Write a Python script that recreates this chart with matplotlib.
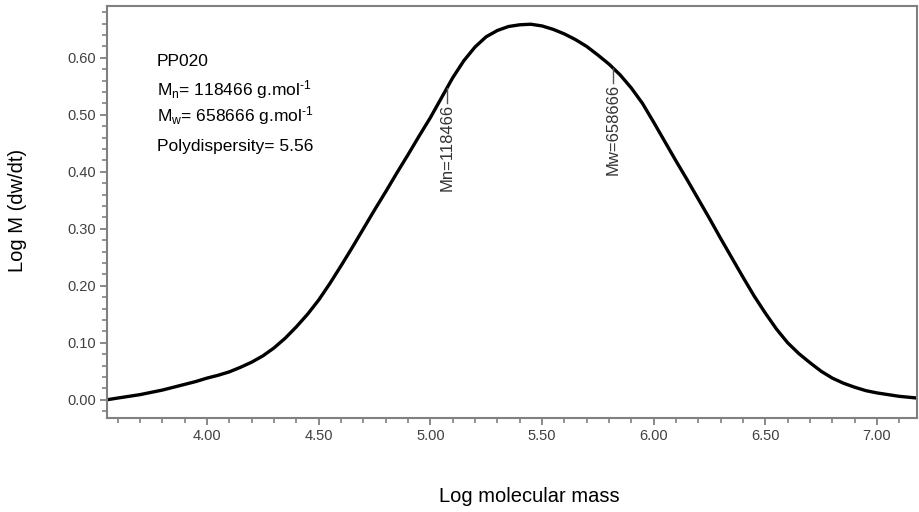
import numpy as np
import matplotlib
matplotlib.use("Agg")
import matplotlib.pyplot as plt

plt.rcParams['font.family'] = ['Liberation Sans', 'DejaVu Sans']
plt.rcParams['mathtext.fontset'] = 'custom'
plt.rcParams['mathtext.rm'] = 'Liberation Sans'
plt.rcParams['mathtext.it'] = 'Liberation Sans'

# Molecular weight distribution
log_m = [3.552, 3.6, 3.65, 3.7, 3.75, 3.8, 3.85, 3.9, 3.95, 4.0, 4.05, 4.1,
         4.15, 4.2, 4.25, 4.3, 4.35, 4.4, 4.45, 4.5, 4.55, 4.6, 4.65, 4.7,
         4.75, 4.8, 4.85, 4.9, 4.95, 5.0, 5.05, 5.1, 5.15, 5.2, 5.25, 5.3,
         5.35, 5.4, 5.45, 5.5, 5.55, 5.6, 5.65, 5.7, 5.75, 5.8, 5.85, 5.9,
         5.95, 6.0, 6.05, 6.1, 6.15, 6.2, 6.25, 6.3, 6.35, 6.4, 6.45, 6.5,
         6.55, 6.6, 6.65, 6.7, 6.75, 6.8, 6.85, 6.9, 6.95, 7.0, 7.05, 7.1,
         7.18]
dwdt = [0.000, 0.003, 0.006, 0.009, 0.013, 0.017, 0.022, 0.027, 0.032, 0.038,
        0.043, 0.049, 0.057, 0.066, 0.077, 0.091, 0.108, 0.128, 0.150, 0.175,
        0.204, 0.235, 0.267, 0.300, 0.333, 0.365, 0.398, 0.430, 0.463, 0.495,
        0.530, 0.565, 0.595, 0.619, 0.637, 0.648, 0.655, 0.658, 0.659, 0.656,
        0.650, 0.642, 0.632, 0.620, 0.605, 0.589, 0.570, 0.547, 0.520, 0.487,
        0.453, 0.419, 0.386, 0.352, 0.318, 0.283, 0.249, 0.215, 0.182, 0.152,
        0.124, 0.100, 0.081, 0.065, 0.050, 0.038, 0.029, 0.022, 0.016, 0.012,
        0.009, 0.006, 0.003]

sample = "PP020"
mn_value = 118466
mw_value = 658666
polydispersity = 5.56

x_ticks = [4.00, 4.50, 5.00, 5.50, 6.00, 6.50, 7.00]
y_ticks = [0.00, 0.10, 0.20, 0.30, 0.40, 0.50, 0.60]

fig = plt.figure(figsize=(9.19, 5.12), dpi=100)
ax = fig.add_axes([0.1164, 0.1836, 0.8814, 0.8047])

ax.plot(log_m, dwdt, color='black', lw=2.4, solid_capstyle='round',
        solid_joinstyle='round')

ax.set_xlim(3.552, 7.179)
ax.set_ylim(-0.032, 0.691)

spine_c = '#808080'
for s in ax.spines.values():
    s.set_color(spine_c)
    s.set_linewidth(1.5)

ax.set_xticks(x_ticks)
ax.set_xticklabels([f"{v:.2f}" for v in x_ticks])
ax.set_yticks(y_ticks)
ax.set_yticklabels([f"{v:.2f}" for v in y_ticks])
ax.set_xticks(np.arange(3.6, 7.15, 0.1), minor=True)
ax.set_yticks(np.arange(-0.02, 0.69, 0.02), minor=True)
ax.tick_params(which='major', direction='out', length=5, width=1.3,
               color=spine_c, labelsize=10.5, labelcolor='#404040', pad=3)
ax.tick_params(which='minor', direction='out', length=3.5, width=1.2,
               color=spine_c)

# Mn / Mw markers
text_c = '#333333'
for label, val in (("Mn", mn_value), ("Mw", mw_value)):
    xv = np.log10(val)
    yv = np.interp(xv, log_m, dwdt)
    y_end = yv - 0.026
    ax.plot([xv, xv], [yv, y_end], color='#555555', lw=1.0)
    ax.text(xv, y_end - 0.002, f"{label}={val}", rotation=90, ha='center',
            va='top', fontsize=12, color=text_c)

# Info block
fs = 12.5
sup = r"$^{\text{-1}}$"
fig.text(157/919, 1 - 62/512, sample, fontsize=fs, va='center', ha='left')
fig.text(157/919, 1 - 90/512,
         r"M$_{\mathregular{n}}$= " + f"{mn_value} g.mol" + sup,
         fontsize=fs, va='center', ha='left')
fig.text(157/919, 1 - 116/512,
         r"M$_{\mathregular{w}}$= " + f"{mw_value} g.mol" + sup,
         fontsize=fs, va='center', ha='left')
fig.text(157/919, 1 - 146/512, f"Polydispersity= {polydispersity}",
         fontsize=fs, va='center', ha='left')

fig.text(18/919, 1 - 210/512, "Log M (dw/dt)", rotation=90, fontsize=14.5,
         ha='center', va='center')
fig.text(529/919, 1 - 497/512, "Log molecular mass", fontsize=14.5,
         ha='center', va='center')

fig.savefig("out.png", dpi=100)
